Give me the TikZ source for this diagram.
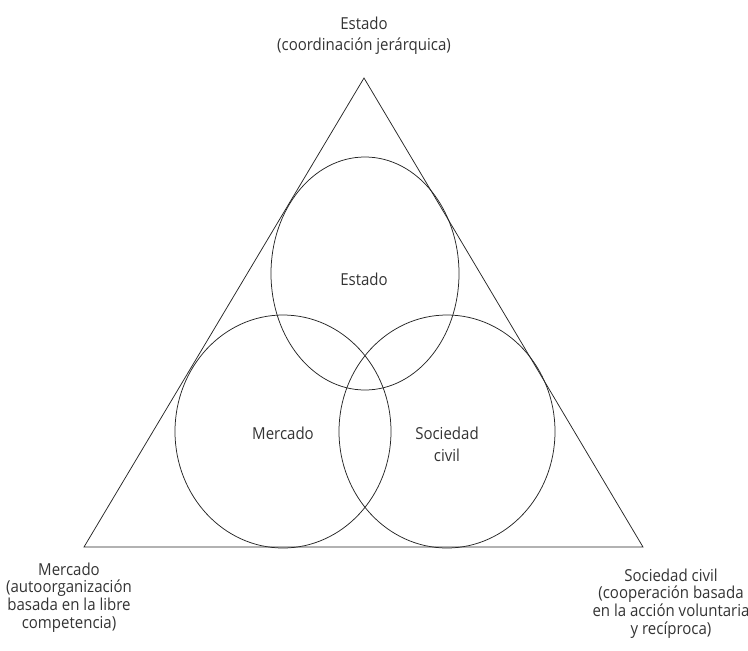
\documentclass[tikz,border=0pt]{standalone}
\usepackage{fontspec}
\setmainfont[FakeStretch=0.91]{Open Sans}
\usetikzlibrary{shapes.geometric}
\tikzset{
  ln/.style={draw=black!85, line width=0.75pt},
  ring/.style={ln, ellipse, inner sep=0pt, fill=none},
  lbl/.style={font=\fontsize{16.5}{17.6}\selectfont, text=black!80, inner sep=0pt, align=center, anchor=base},
  toplbl/.style={lbl, font=\fontsize{16.5}{21}\selectfont},
  innerlbl/.style={lbl, font=\fontsize{16.5}{21.5}\selectfont}
}
\begin{document}
\begin{tikzpicture}[x=1pt,y=-1pt]
\useasboundingbox (0,0) rectangle (748,651);
% triangle
\coordinate (A) at (364,78);
\coordinate (B) at (84,547);
\coordinate (C) at (643,547);
\draw[ln, line join=miter] (A) -- (B) -- (C) -- cycle;
% ellipses
\node[ring, minimum width=188pt, minimum height=233pt] (eS) at (365,273.5) {};
\node[ring, minimum width=216pt, minimum height=233pt] (eM) at (283,431.5) {};
\node[ring, minimum width=216pt, minimum height=233pt] (eC) at (447,431.5) {};
% inner labels (base = last line)
\node[innerlbl] (tS) at (364,285) {Estado};
\node[innerlbl] (tM) at (283,439) {Mercado};
\node[innerlbl] (tC) at (447,461) {Sociedad\\civil};
% outer labels
\node[toplbl] (oS) at (364,50) {Estado\\(coordinación jerárquica)};
\node[lbl] (oM) at (69,628) {Mercado\\(autoorganización\\basada en la libre\\competencia)};
\node[lbl] (oC) at (671,634) {Sociedad civil\\(cooperación basada\\en la acción voluntaria\\y recíproca)};
\end{tikzpicture}
\end{document}
